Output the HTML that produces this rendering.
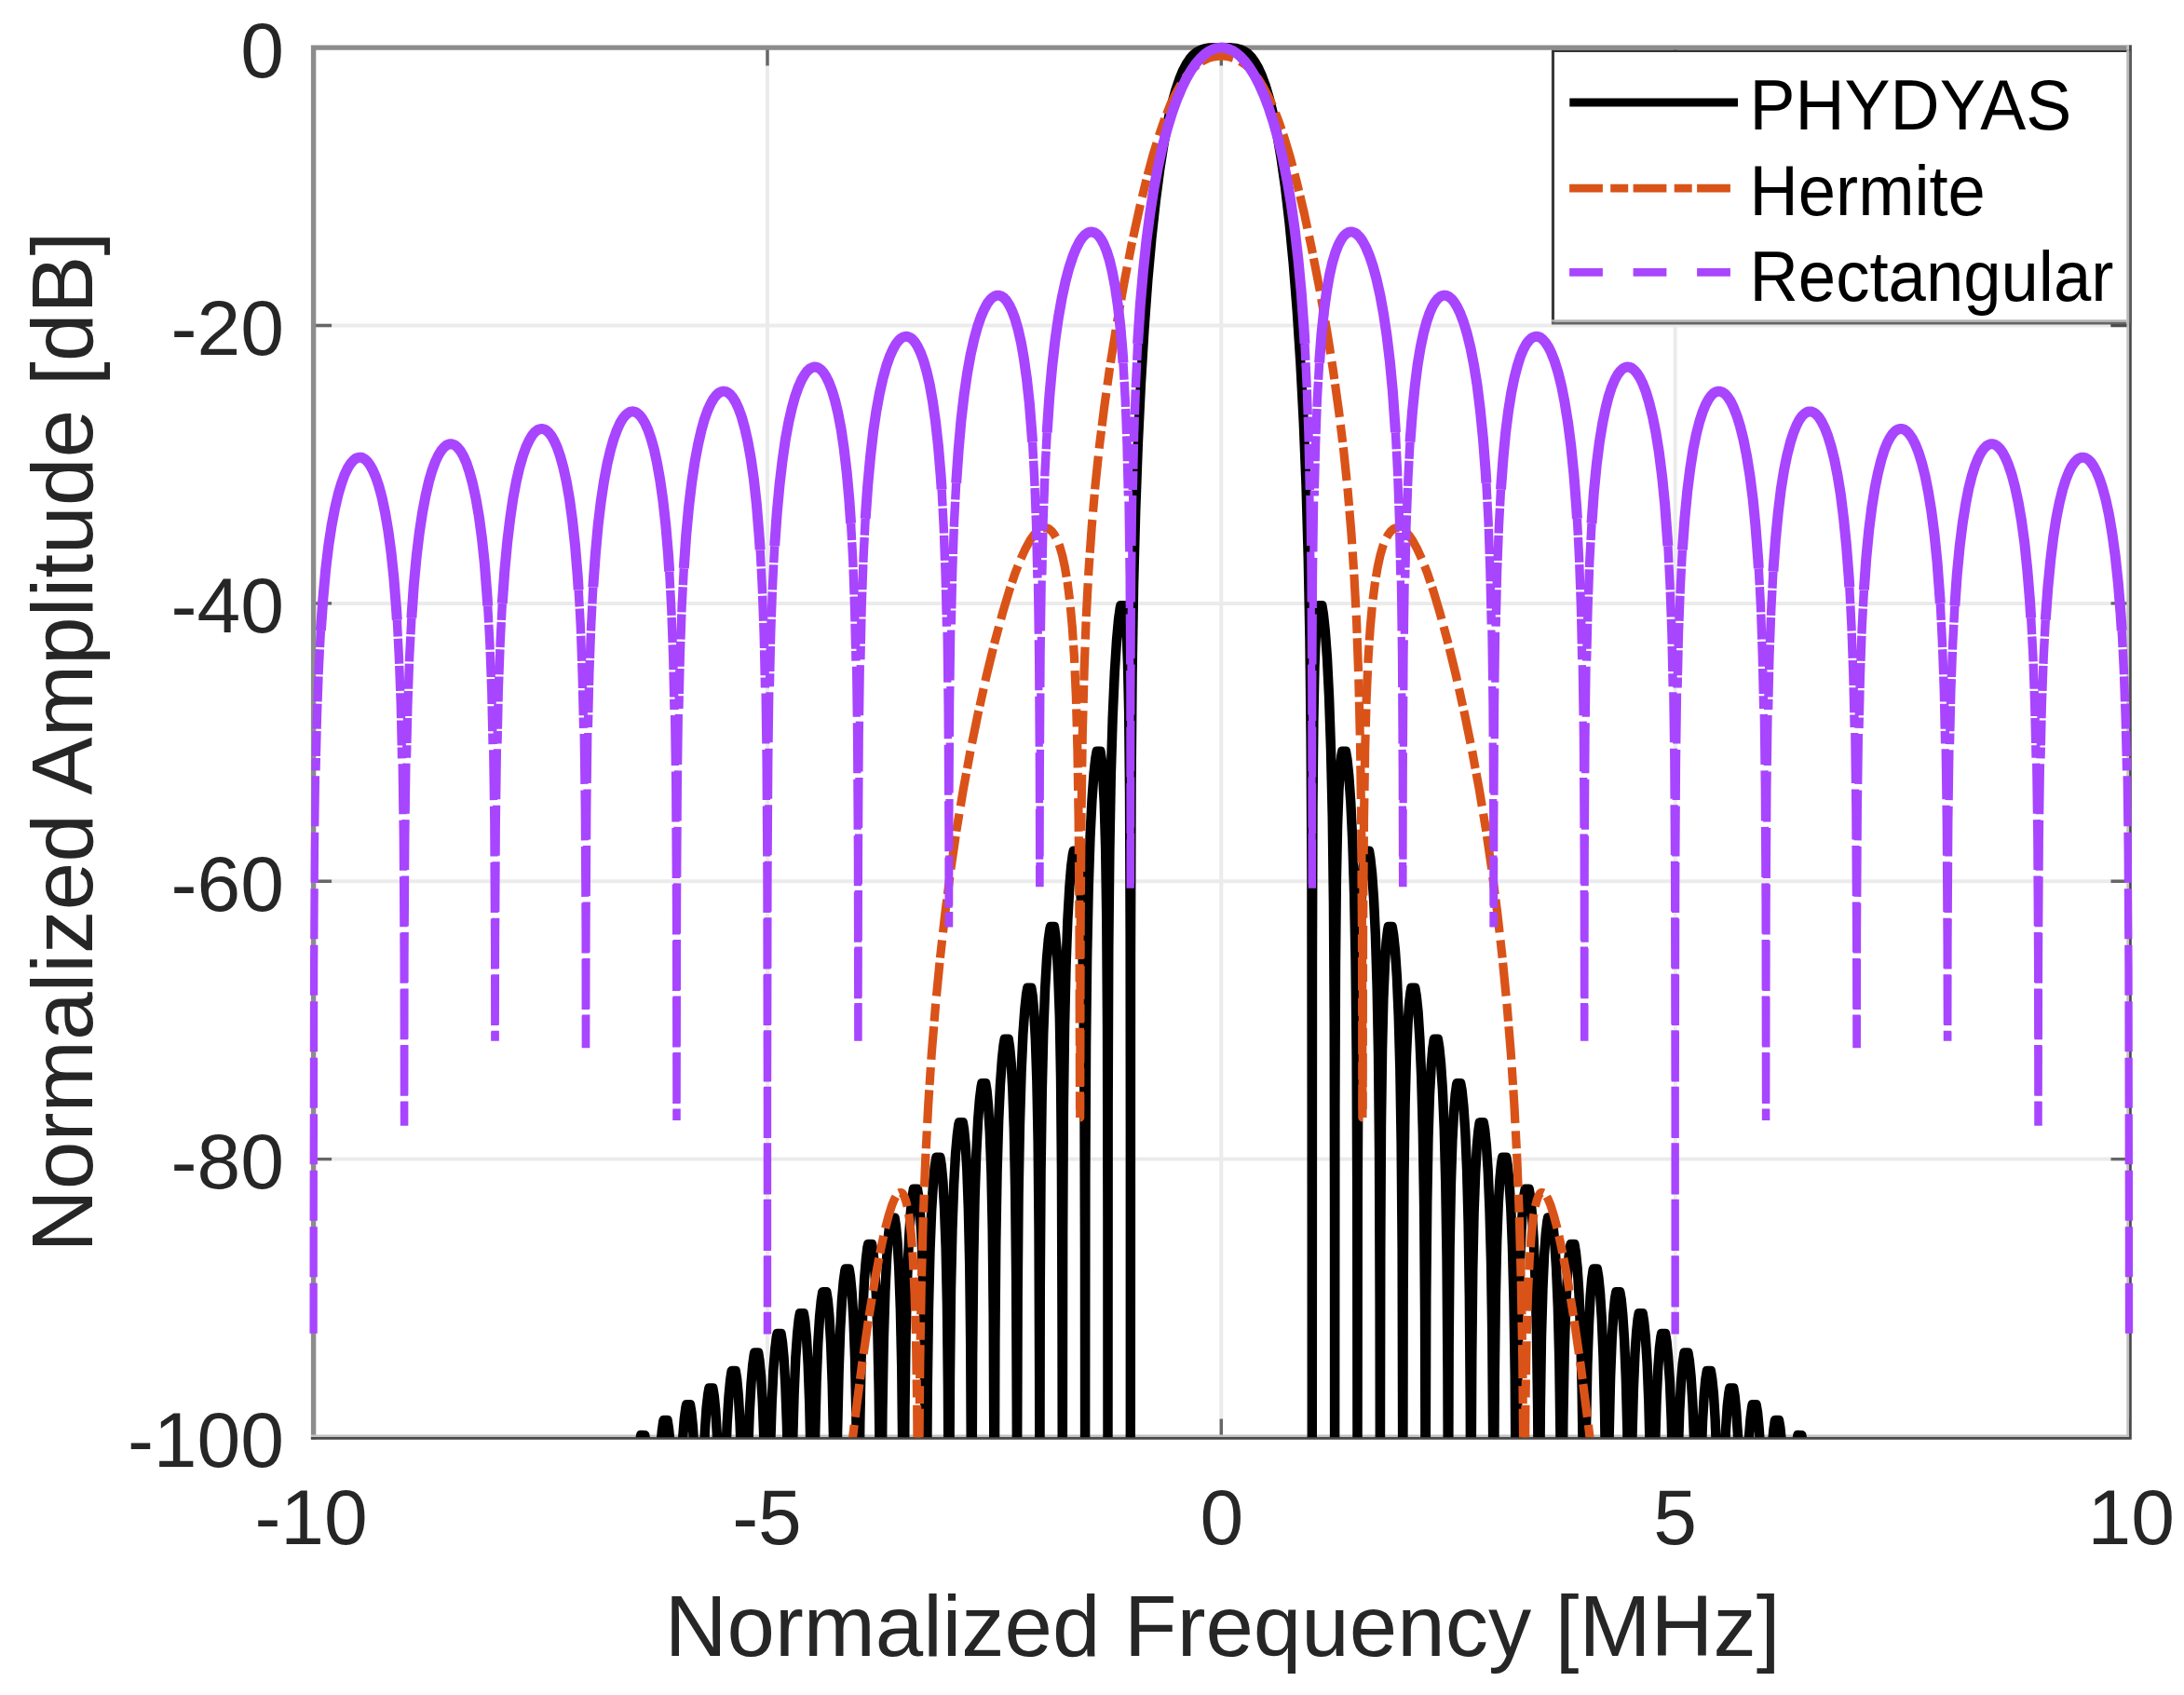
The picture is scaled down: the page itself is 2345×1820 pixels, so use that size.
<!DOCTYPE html>
<html lang="en"><head><meta charset="utf-8"><title>Prototype filter frequency responses</title>
<style>html,body{margin:0;padding:0;background:#fff;overflow:hidden}svg{display:block}</style></head>
<body>
<svg width="2345" height="1820" viewBox="0 0 2345 1820">
<defs><clipPath id="ax"><rect x="329.6" y="44.1" width="1963.4" height="1499.2"/></clipPath></defs>
<rect width="2345" height="1820" fill="#fff"/>
<path d="M824.0 51.1V1543.0M1311.3 51.1V1543.0M1798.7 51.1V1543.0M336.6 349.5H2286.0M336.6 647.9H2286.0M336.6 946.2H2286.0M336.6 1244.6H2286.0" stroke="#ebebeb" stroke-width="4" fill="none"/>
<path d="M336.6 1543.0v-19.5M336.6 51.1v19.5M824.0 1543.0v-19.5M824.0 51.1v19.5M1311.3 1543.0v-19.5M1311.3 51.1v19.5M1798.7 1543.0v-19.5M1798.7 51.1v19.5M2286.0 1543.0v-19.5M2286.0 51.1v19.5M336.6 51.1h19.5M2286.0 51.1h-19.5M336.6 349.5h19.5M2286.0 349.5h-19.5M336.6 647.9h19.5M2286.0 647.9h-19.5M336.6 946.2h19.5M2286.0 946.2h-19.5M336.6 1244.6h19.5M2286.0 1244.6h-19.5M336.6 1543.0h19.5M2286.0 1543.0h-19.5" stroke="#666" stroke-width="3.4" fill="none"/>
<path d="M336.6 1545.6V51.1H2288.8" stroke="#8c8c8c" stroke-width="5.4" fill="none" stroke-linejoin="miter"/>
<path d="M333.90000000000003 1541.8H2284.7V48.4" stroke="#c2c2c2" stroke-width="2.8" fill="none"/>
<path d="M333.90000000000003 1544.45H2287.45V48.4" stroke="#4a4a4a" stroke-width="2.7" fill="none"/>
<g clip-path="url(#ax)" fill="none" stroke-linejoin="round">
<path d="M629.0 1637.0L629.2 1632.5L634.2 1632.4L636.0 1601.8L637.7 1582.8L639.1 1572.7L639.5 1571.3L643.5 1571.3L644.8 1579.7L646.5 1596.2L648.2 1624.1L648.7 1632.5L658.0 1632.5L659.7 1596.7L661.5 1573.6L663.0 1560.7L663.9 1556.5L667.9 1556.5L669.2 1564.4L670.8 1580.6L672.5 1608.1L673.6 1632.5L681.7 1632.5L683.6 1588.9L685.4 1563.1L687.0 1548.0L688.2 1541.0L692.3 1541.1L693.7 1550.0L695.3 1566.9L697.0 1595.5L698.5 1632.5L705.6 1632.5L707.4 1584.5L709.2 1554.5L710.9 1535.8L712.3 1526.0L712.7 1524.9L716.6 1524.9L718.0 1533.8L719.7 1550.7L721.4 1579.2L723.0 1621.9L723.4 1632.5L729.6 1632.5L731.3 1578.9L733.1 1544.9L734.8 1523.1L736.4 1511.1L737.1 1508.1L741.0 1508.1L742.4 1516.5L744.0 1533.1L745.7 1561.1L747.3 1603.2L748.2 1632.5L753.5 1632.5L755.1 1575.4L756.9 1536.4L758.6 1511.3L760.3 1496.6L761.4 1490.5L765.4 1490.5L766.7 1498.3L768.3 1514.6L770.0 1542.3L771.6 1583.6L772.9 1632.5L777.6 1632.5L779.0 1571.7L780.7 1528.2L782.5 1499.5L784.2 1481.6L785.6 1472.3L785.8 1472.0L789.8 1472.0L791.2 1480.9L792.8 1497.9L794.5 1526.5L796.1 1569.7L797.6 1632.5L801.6 1632.5L803.0 1564.2L804.7 1517.4L806.5 1485.6L808.2 1465.7L809.7 1454.7L810.2 1452.5L814.2 1452.5L815.5 1460.9L817.1 1477.5L818.8 1505.8L820.4 1548.2L821.8 1608.1L822.3 1632.5L825.7 1632.5L827.1 1557.0L828.7 1506.3L830.4 1471.3L832.2 1448.6L833.7 1436.0L834.6 1432.0L838.6 1432.0L840.0 1441.0L841.6 1458.0L843.3 1487.0L844.9 1530.6L846.3 1592.9L846.9 1632.5L849.8 1632.5L851.0 1554.8L852.6 1497.9L854.3 1458.1L856.1 1432.4L857.7 1417.0L858.9 1410.2L862.9 1410.2L864.3 1418.7L865.9 1435.4L867.6 1463.8L869.2 1506.8L870.6 1567.7L871.5 1632.5L873.9 1632.5L875.1 1544.4L876.6 1484.0L878.3 1441.9L880.1 1413.2L881.8 1396.3L883.2 1387.5L883.4 1387.1L887.4 1387.2L888.8 1396.1L890.4 1413.3L892.1 1442.4L893.7 1486.5L895.1 1550.0L896.1 1632.5L898.1 1632.5L899.1 1539.8L900.6 1474.4L902.2 1427.9L904.0 1395.5L905.8 1375.2L907.3 1364.4L907.8 1362.5L911.7 1362.5L913.0 1370.5L914.6 1387.0L916.4 1415.2L918.0 1457.9L919.3 1518.7L920.4 1609.2L920.6 1632.5L922.2 1632.5L923.3 1530.1L924.6 1459.6L926.3 1408.8L928.1 1373.8L929.9 1351.8L931.4 1339.5L932.2 1336.0L936.1 1336.0L937.5 1344.5L939.1 1361.4L940.8 1389.3L942.4 1432.5L943.7 1494.4L944.8 1581.9L945.2 1632.5L946.4 1632.5L947.5 1513.2L948.8 1439.8L950.4 1387.1L952.2 1349.8L954.0 1326.2L955.6 1312.5L956.6 1307.5L960.6 1307.6L961.9 1316.1L963.5 1333.1L965.2 1361.2L966.8 1404.9L968.2 1468.0L969.2 1558.6L969.7 1632.5L970.7 1632.5L971.5 1512.4L972.7 1429.9L974.2 1371.9L976.0 1329.9L977.8 1302.0L979.5 1285.0L980.9 1276.6L985.0 1276.6L986.3 1285.2L987.9 1302.3L989.6 1330.5L991.2 1373.0L992.5 1435.9L993.5 1526.5L994.2 1632.5L994.9 1632.5L995.8 1489.6L997.0 1404.8L998.5 1343.6L1000.2 1299.8L1002.0 1270.6L1003.7 1252.8L1005.2 1243.4L1005.4 1242.7L1009.4 1242.7L1010.8 1251.2L1012.4 1268.4L1014.0 1296.8L1015.6 1339.7L1016.9 1400.8L1017.9 1491.1L1018.6 1632.5L1019.2 1632.5L1020.0 1475.7L1021.0 1385.5L1022.5 1318.9L1024.2 1271.6L1026.0 1239.3L1027.8 1218.9L1029.3 1207.5L1029.9 1205.2L1033.8 1205.2L1035.1 1212.9L1036.6 1228.8L1038.3 1256.2L1039.8 1297.5L1041.2 1358.7L1042.2 1445.7L1042.9 1586.6L1043.1 1632.5L1043.5 1632.5L1044.2 1455.3L1045.2 1358.1L1046.6 1287.7L1048.3 1238.0L1050.1 1203.0L1051.9 1180.2L1053.5 1167.3L1054.3 1163.3L1058.3 1163.3L1059.6 1171.4L1061.1 1187.8L1062.8 1216.0L1064.4 1259.0L1065.7 1320.8L1066.7 1414.3L1067.3 1562.1L1067.6 1632.5L1067.8 1632.5L1068.4 1441.6L1069.3 1334.5L1070.6 1258.4L1072.2 1203.6L1074.0 1164.3L1075.9 1137.9L1077.5 1122.7L1078.7 1115.7L1082.8 1115.8L1084.1 1124.5L1085.7 1141.5L1087.3 1169.8L1088.8 1212.6L1090.1 1276.9L1091.1 1370.6L1091.7 1511.4L1092.0 1632.5L1092.7 1390.6L1093.6 1283.2L1095.0 1206.7L1096.6 1151.4L1098.4 1110.7L1100.3 1084.0L1102.0 1068.0L1103.3 1060.6L1107.3 1060.6L1108.7 1069.4L1110.2 1086.5L1111.8 1115.4L1113.3 1159.9L1114.6 1224.8L1115.5 1318.7L1116.1 1475.6L1116.4 1632.5L1116.8 1383.9L1117.6 1258.4L1118.8 1172.1L1120.3 1109.0L1122.1 1061.7L1124.0 1029.0L1125.8 1008.5L1127.4 997.3L1128.0 994.9L1131.9 994.9L1133.1 1002.8L1134.6 1019.0L1136.2 1047.4L1137.8 1091.7L1139.0 1157.5L1139.9 1255.1L1140.5 1432.7L1140.8 1611.5L1141.2 1325.5L1141.9 1191.1L1143.1 1101.5L1144.6 1036.3L1146.4 987.2L1148.4 952.2L1150.2 930.0L1151.9 917.2L1152.7 913.6L1156.6 913.6L1157.8 921.7L1159.3 938.6L1160.9 967.6L1162.3 1011.5L1163.5 1079.4L1164.4 1182.2L1164.9 1342.3L1165.1 1632.5L1165.4 1267.5L1166.1 1122.6L1167.2 1026.3L1168.7 954.3L1170.5 898.9L1172.5 858.3L1174.5 830.8L1176.3 814.4L1177.6 806.8L1181.5 806.8L1182.8 815.5L1184.2 833.0L1185.7 862.7L1187.1 910.4L1188.2 984.6L1189.0 1103.3L1189.4 1309.4L1189.5 1632.5L1189.7 1188.6L1190.3 1019.1L1191.4 913.6L1192.8 833.2L1194.7 770.2L1196.8 722.2L1199.0 687.3L1201.0 665.3L1202.7 652.9L1203.3 650.2L1207.0 650.2L1208.2 659.4L1209.6 678.3L1210.9 710.7L1212.1 763.6L1213.0 850.8L1213.6 1003.2L1213.8 1209.7L1213.8 1632.5L1214.0 1027.6L1214.6 842.0L1215.6 723.3L1217.1 630.2L1219.2 549.9L1221.8 478.1L1224.9 412.5L1228.5 353.5L1232.3 301.1L1236.5 254.7L1240.9 215.0L1245.3 181.4L1249.7 153.4L1254.0 130.4L1258.2 111.7L1262.4 96.6L1266.4 84.8L1270.2 75.6L1274.0 68.5L1277.6 63.1L1281.2 59.1L1284.9 56.1L1288.7 53.9L1293.0 52.4L1298.3 51.5L1306.8 51.1L1321.7 51.3L1327.7 52.0L1332.3 53.2L1336.3 55.1L1340.0 57.8L1343.6 61.4L1347.2 66.3L1350.9 72.7L1354.7 81.0L1358.7 91.7L1362.8 105.5L1367.0 122.6L1371.2 143.8L1375.6 169.9L1380.1 201.6L1384.5 239.1L1388.7 282.8L1392.7 333.2L1396.4 389.9L1399.7 452.5L1402.5 521.5L1404.7 597.8L1406.4 684.4L1407.6 791.5L1408.4 935.7L1408.7 1208.7L1408.8 1632.5L1409.0 1031.6L1409.5 866.0L1410.4 773.3L1411.5 715.7L1412.9 681.0L1414.2 660.9L1415.4 651.0L1415.7 650.2L1419.4 650.2L1420.9 659.3L1422.8 677.1L1425.0 706.7L1427.1 749.1L1429.0 805.1L1430.7 876.1L1431.9 969.3L1432.7 1097.4L1433.0 1308.2L1433.1 1632.5L1433.4 1191.6L1434.0 1036.7L1434.9 945.8L1436.1 886.5L1437.5 847.9L1439.0 824.3L1440.4 810.9L1441.2 806.8L1445.0 806.8L1446.5 815.8L1448.3 833.0L1450.3 861.6L1452.3 903.9L1454.1 960.0L1455.5 1032.7L1456.6 1135.9L1457.2 1287.7L1457.5 1632.5L1457.8 1270.4L1458.5 1131.3L1459.6 1046.8L1460.9 990.5L1462.4 953.1L1463.9 929.8L1465.4 917.3L1466.1 913.6L1470.0 913.6L1471.3 921.4L1473.1 937.7L1475.0 964.5L1476.9 1004.7L1478.6 1059.8L1480.0 1131.9L1481.0 1234.5L1481.6 1402.3L1481.9 1611.8L1482.3 1343.5L1483.0 1209.4L1484.1 1127.2L1485.4 1071.7L1487.0 1034.5L1488.5 1011.7L1490.0 998.8L1490.8 994.9L1494.7 994.9L1496.2 1003.7L1498.0 1020.8L1499.9 1049.2L1501.7 1091.3L1503.3 1148.1L1504.6 1227.0L1505.6 1339.8L1506.1 1540.7L1506.3 1632.5L1506.7 1386.4L1507.5 1265.2L1508.6 1187.5L1510.0 1134.1L1511.6 1098.8L1513.2 1076.3L1514.7 1064.0L1515.4 1060.6L1519.3 1060.6L1520.8 1069.5L1522.6 1086.9L1524.4 1115.1L1526.2 1156.8L1527.8 1215.5L1529.1 1295.3L1530.0 1409.3L1530.6 1632.5L1531.3 1393.8L1532.3 1290.6L1533.5 1221.9L1535.0 1175.3L1536.7 1145.0L1538.3 1126.2L1539.7 1116.5L1539.9 1115.7L1543.9 1115.7L1545.3 1124.5L1547.0 1141.4L1548.9 1169.6L1550.7 1211.8L1552.2 1269.4L1553.5 1350.9L1554.4 1470.7L1554.9 1632.5L1555.1 1632.5L1555.7 1444.4L1556.6 1340.9L1557.9 1271.9L1559.4 1224.8L1561.1 1193.3L1562.7 1174.4L1564.1 1164.4L1564.4 1163.3L1568.3 1163.3L1569.7 1171.2L1571.4 1187.7L1573.3 1215.4L1575.1 1257.1L1576.6 1314.4L1577.8 1391.3L1578.7 1504.8L1579.2 1632.5L1579.5 1632.5L1580.3 1458.4L1581.3 1364.7L1582.6 1302.6L1584.2 1259.3L1585.8 1230.7L1587.4 1214.0L1588.7 1205.3L1589.4 1205.2L1592.8 1205.2L1594.2 1213.2L1595.9 1229.7L1597.7 1256.9L1599.4 1297.3L1601.0 1354.4L1602.2 1431.0L1603.1 1544.3L1603.5 1632.5L1604.0 1632.5L1604.8 1479.0L1605.9 1392.0L1607.2 1333.1L1608.8 1291.7L1610.5 1265.2L1612.0 1249.7L1613.2 1242.7L1617.3 1242.7L1618.7 1251.2L1620.4 1268.1L1622.2 1296.0L1623.9 1337.7L1625.4 1394.9L1626.7 1475.4L1627.5 1590.3L1627.7 1632.5L1628.5 1632.5L1629.3 1493.1L1630.5 1414.0L1631.9 1358.9L1633.5 1320.8L1635.1 1296.2L1636.7 1281.9L1637.7 1276.6L1641.7 1276.6L1643.1 1285.0L1644.8 1302.0L1646.6 1329.9L1648.4 1371.9L1649.9 1429.9L1651.1 1512.4L1652.0 1632.5L1653.0 1632.5L1653.9 1511.4L1655.0 1436.4L1656.5 1383.6L1658.1 1347.2L1659.8 1324.3L1661.3 1311.5L1662.1 1307.5L1666.1 1307.5L1667.5 1316.0L1669.2 1333.0L1671.0 1361.0L1672.8 1403.4L1674.3 1462.2L1675.4 1542.1L1676.2 1632.5L1677.5 1632.5L1678.4 1524.6L1679.7 1452.8L1681.2 1403.8L1682.9 1370.6L1684.5 1349.7L1686.0 1338.5L1686.6 1336.0L1690.5 1336.0L1691.9 1344.5L1693.6 1361.0L1695.4 1388.9L1697.1 1431.2L1698.6 1489.8L1699.8 1569.6L1700.4 1632.5L1702.0 1632.5L1703.1 1530.9L1704.4 1466.5L1706.0 1421.5L1707.6 1391.6L1709.2 1373.3L1710.6 1363.6L1711.0 1362.5L1714.9 1362.5L1716.3 1371.1L1718.0 1387.7L1719.8 1415.8L1721.5 1456.9L1723.0 1515.5L1724.2 1595.2L1724.6 1632.5L1726.6 1632.5L1727.7 1541.2L1729.1 1479.9L1730.7 1438.3L1732.4 1410.7L1734.0 1394.6L1735.3 1387.1L1739.3 1387.1L1740.7 1395.1L1742.3 1411.4L1744.1 1439.0L1745.8 1479.6L1747.3 1537.0L1748.6 1619.1L1748.8 1632.5L1751.1 1632.5L1752.4 1546.6L1753.9 1491.5L1755.5 1453.4L1757.2 1429.5L1758.7 1415.4L1759.7 1410.2L1763.7 1410.2L1765.1 1418.8L1766.8 1435.4L1768.6 1463.6L1770.3 1505.1L1771.8 1564.4L1772.9 1632.5L1775.7 1632.5L1777.1 1553.2L1778.6 1502.9L1780.3 1468.8L1781.9 1447.2L1783.4 1435.1L1784.1 1432.0L1788.1 1432.0L1789.4 1439.6L1791.0 1455.7L1792.9 1483.1L1794.6 1523.5L1796.1 1580.8L1797.0 1632.5L1800.4 1632.5L1801.8 1562.2L1803.3 1515.4L1805.0 1483.6L1806.7 1464.2L1808.2 1453.9L1808.5 1452.5L1812.5 1452.5L1813.9 1461.1L1815.6 1477.8L1817.4 1506.2L1819.1 1548.0L1820.6 1608.3L1821.1 1632.5L1825.1 1632.5L1826.5 1568.1L1828.1 1525.5L1829.8 1497.2L1831.4 1480.5L1832.8 1472.0L1836.9 1472.0L1838.2 1480.1L1839.9 1496.4L1841.6 1523.5L1843.3 1564.2L1844.9 1622.3L1845.1 1632.5L1849.8 1632.5L1851.3 1573.1L1853.0 1534.8L1854.7 1509.9L1856.3 1495.8L1857.3 1490.5L1861.3 1490.5L1862.7 1499.2L1864.3 1515.9L1866.1 1543.6L1867.8 1585.3L1869.1 1632.5L1874.5 1632.5L1876.1 1580.3L1877.8 1545.1L1879.5 1523.5L1881.0 1511.4L1881.6 1508.1L1885.6 1508.1L1887.1 1516.7L1888.7 1533.4L1890.5 1561.0L1892.2 1602.7L1893.1 1632.5L1899.3 1632.5L1901.0 1583.4L1902.7 1553.3L1904.4 1535.0L1905.8 1525.6L1906.1 1524.9L1910.0 1524.9L1911.4 1533.0L1913.0 1549.4L1914.8 1576.7L1916.5 1617.8L1917.0 1632.5L1924.1 1632.5L1925.9 1589.6L1927.6 1563.2L1929.2 1547.7L1930.4 1541.0L1934.4 1541.1L1935.8 1549.8L1937.5 1566.6L1939.3 1594.5L1940.9 1632.5L1949.0 1632.5L1950.8 1594.8L1952.6 1572.3L1954.1 1560.0L1954.8 1556.5L1958.8 1556.5L1960.2 1565.2L1961.9 1582.0L1963.6 1609.7L1964.7 1632.5L1974.0 1632.5L1975.8 1601.5L1977.4 1582.6L1978.9 1572.5L1979.2 1571.3L1983.2 1571.3L1984.6 1579.9L1986.2 1596.7L1988.0 1624.4L1988.5 1632.5L1993.5 1632.5L1993.6 1637.0" stroke="#000" stroke-width="10.4"/>
<path d="M1159.6 1199.9L1159.7 1199.9L1160.2 988.7L1161.1 872.3L1162.3 788.5L1164.1 720.8L1166.2 663.7L1168.9 612.8L1172.2 565.9L1176.0 521.5L1180.5 478.6L1185.8 436.1L1191.9 392.7L1199.1 347.9L1207.1 303.1L1215.4 260.7L1223.5 223.7L1231.0 192.4L1238.0 166.4L1244.6 145.0L1250.7 127.4L1256.5 112.8L1262.1 100.9L1267.4 91.2L1272.5 83.4L1277.6 77.0L1282.6 71.9L1287.6 67.8L1292.7 64.7L1297.9 62.4L1303.3 60.9L1308.9 60.1L1314.5 60.2L1320.0 61.0L1325.4 62.6L1330.6 65.1L1335.6 68.3L1340.7 72.5L1345.7 77.7L1350.7 84.3L1355.9 92.4L1361.3 102.4L1366.9 114.6L1372.7 129.6L1378.9 147.6L1385.5 169.6L1392.5 196.2L1400.2 228.4L1408.3 266.4L1416.7 309.4L1424.6 354.3L1431.6 398.8L1437.6 441.8L1442.8 484.5L1447.2 527.4L1450.9 571.9L1454.0 618.8L1456.7 670.5L1458.8 729.0L1460.5 799.0L1461.7 886.8L1462.5 1012.5L1462.9 1199.9L1463.0 1199.9" stroke="#d95319" stroke-width="9.2" stroke-dasharray="35.8 8.3 19 5.4" stroke-dashoffset="10"/>
<path d="M1159.6 1199.9L1159.5 1192.0L1159.0 992.3L1158.1 879.4L1156.9 804.7L1155.4 749.5L1153.5 706.5L1151.3 673.3L1148.9 646.7L1146.2 625.6L1143.4 609.0L1140.6 596.2L1137.7 586.3L1134.8 579.1L1132.0 573.9L1129.4 570.4L1126.8 568.2L1124.3 567.0L1121.9 566.6L1119.3 567.0L1116.4 568.4L1113.3 570.9L1109.7 574.8L1105.7 580.7L1101.2 588.9L1096.1 599.9L1090.3 614.6L1083.9 633.5L1076.7 657.5L1068.5 687.7L1059.6 723.9L1050.6 764.1L1042.1 805.5L1034.4 847.2L1027.3 889.8L1020.8 933.9L1014.9 979.8L1009.5 1028.0L1004.6 1078.5L1000.3 1131.1L996.7 1186.3L993.7 1244.7L991.2 1308.2L989.3 1378.6L987.8 1462.6L986.8 1574.6L986.5 1632.5L986.1 1632.5" stroke="#d95319" stroke-width="9.2" stroke-dasharray="35.8 8.3 19 5.4" stroke-dashoffset="-33"/>
<path d="M986.1 1632.5L985.6 1632.5L984.7 1510.2L983.5 1437.5L982.0 1387.7L980.3 1351.9L978.4 1326.2L976.4 1308.2L974.4 1296.2L972.4 1288.6L970.7 1284.0L969.1 1281.6L967.7 1280.6L966.3 1280.5L964.7 1281.2L962.9 1283.2L960.5 1287.3L957.6 1294.3L954.1 1305.5L949.8 1321.9L944.9 1345.1L939.1 1376.1L932.6 1416.3L925.3 1466.9L917.3 1529.1L908.4 1603.9L905.1 1632.5L892.2 1632.5" stroke="#d95319" stroke-width="9.2" stroke-dasharray="35.8 8.3 19 5.4" stroke-dashoffset="-20"/>
<path d="M1463.0 1199.9L1463.1 1192.0L1463.6 992.3L1464.5 879.4L1465.7 804.7L1467.2 749.5L1469.1 706.5L1471.3 673.3L1473.7 646.7L1476.4 625.6L1479.2 609.0L1482.0 596.2L1484.9 586.3L1487.8 579.1L1490.6 573.9L1493.2 570.4L1495.8 568.2L1498.3 567.0L1500.7 566.6L1503.3 567.0L1506.2 568.4L1509.3 570.9L1512.9 574.8L1516.9 580.7L1521.4 588.9L1526.5 599.9L1532.3 614.6L1538.7 633.5L1545.9 657.5L1554.1 687.7L1563.0 723.9L1572.0 764.1L1580.5 805.5L1588.2 847.2L1595.3 889.8L1601.8 933.9L1607.7 979.8L1613.1 1028.0L1618.0 1078.5L1622.3 1131.1L1625.9 1186.3L1628.9 1244.7L1631.4 1308.2L1633.3 1378.6L1634.8 1462.6L1635.8 1574.6L1636.1 1632.5L1636.5 1632.5" stroke="#d95319" stroke-width="9.2" stroke-dasharray="35.8 8.3 19 5.4" stroke-dashoffset="-33"/>
<path d="M1636.5 1632.5L1637.0 1632.5L1637.9 1510.2L1639.1 1437.5L1640.6 1387.7L1642.3 1351.9L1644.2 1326.2L1646.2 1308.2L1648.2 1296.2L1650.2 1288.6L1651.9 1284.0L1653.5 1281.6L1654.9 1280.6L1656.3 1280.5L1657.9 1281.2L1659.7 1283.2L1662.1 1287.3L1665.0 1294.3L1668.5 1305.5L1672.8 1321.9L1677.7 1345.1L1683.5 1376.1L1690.0 1416.3L1697.3 1466.9L1705.3 1529.1L1714.2 1603.9L1717.5 1632.5L1730.4 1632.5" stroke="#d95319" stroke-width="9.2" stroke-dasharray="35.8 8.3 19 5.4" stroke-dashoffset="-20"/>
<path d="M344.4 677.1L346.9 642.2L349.7 611.4L352.8 585.7L356.1 564.1L359.6 545.7L363.1 530.9L366.6 519.1L370.0 509.7L373.3 502.8L376.4 497.9L379.3 494.5L381.9 492.4L384.4 491.4L386.7 491.1L388.9 491.5L391.4 492.8L394.1 495.1L396.9 498.8L400.0 504.2L403.3 511.7L406.6 521.2L410.1 534.1L413.5 550.3L416.8 569.6L419.9 592.4L422.8 619.7L425.5 653.1L426.3 665.6M441.9 663.3L444.3 628.4L447.2 597.5L450.3 571.8L453.6 550.1L457.1 531.7L460.5 516.9L464.0 505.0L467.5 495.5L470.8 488.6L473.9 483.6L476.8 480.2L479.4 478.1L481.9 477.0L484.1 476.7L486.4 477.1L488.9 478.3L491.5 480.6L494.4 484.2L497.5 489.5L500.8 497.0L504.0 506.5L507.5 519.3L511.0 535.4L514.3 554.6L517.4 577.4L520.3 604.7L522.9 638.0L523.7 650.5M539.3 647.9L541.8 613.0L544.7 582.0L547.8 556.3L551.0 534.5L554.5 516.0L558.0 501.1L561.5 489.2L565.0 479.6L568.3 472.6L571.3 467.6L574.2 464.1L576.9 461.9L579.4 460.8L581.6 460.4L583.9 460.8L586.3 461.9L589.0 464.2L591.9 467.7L594.9 473.0L598.2 480.3L601.5 489.8L605.0 502.5L608.3 517.5L611.6 536.4L614.6 558.8L617.5 585.4L620.2 618.0L621.2 633.4M636.8 630.4L639.3 595.4L642.1 564.4L645.2 538.6L648.5 516.7L652.0 498.1L655.5 483.2L659.0 471.1L662.5 461.5L665.7 454.4L668.8 449.2L671.7 445.7L674.4 443.5L676.8 442.2L679.1 441.8L681.3 442.1L683.8 443.2L686.5 445.4L689.3 448.9L692.4 454.0L695.7 461.3L699.0 470.7L702.3 482.4L705.5 497.2L708.8 515.7L711.9 537.6L714.8 563.7L717.5 595.4L718.7 613.7M734.3 610.2L736.7 575.1L739.6 544.0L742.7 518.1L746.0 496.1L749.5 477.4L753.0 462.3L756.4 450.1L759.9 440.4L763.2 433.2L766.3 427.9L769.2 424.3L771.8 421.9L774.3 420.6L776.8 420.1L779.0 420.4L781.5 421.5L784.1 423.6L787.0 427.1L790.1 432.2L793.2 439.0L796.5 448.2L799.7 459.8L803.0 474.4L806.3 492.8L809.4 514.6L812.3 540.6L814.9 572.2L816.2 590.4M831.7 586.2L834.2 551.0L837.1 519.8L840.2 493.7L843.4 471.6L846.9 452.7L850.4 437.5L853.9 425.1L857.4 415.2L860.7 407.8L863.8 402.4L866.6 398.6L869.3 396.1L871.8 394.7L874.2 394.0L876.5 394.2L878.9 395.1L881.4 396.9L884.1 399.9L886.9 404.3L890.0 410.5L893.3 419.1L896.6 430.1L899.9 443.9L903.2 461.3L906.2 481.8L909.1 506.3L911.8 535.8L913.6 562.0M929.2 556.8L931.7 521.4L934.6 489.9L937.6 463.6L940.9 441.3L944.4 422.2L948.1 405.9L951.8 392.7L955.3 382.8L958.8 375.0L962.0 369.3L964.9 365.6L967.6 363.2L970.1 361.8L972.5 361.3L974.8 361.5L977.2 362.5L979.7 364.3L982.4 367.4L985.2 371.9L988.3 378.3L991.6 387.1L994.9 398.5L998.2 412.7L1001.4 430.8L1004.5 452.5L1007.4 478.5L1010.1 510.3L1011.1 525.5M1026.7 518.6L1029.2 482.9L1032.0 451.1L1035.1 424.5L1038.6 400.5L1042.3 380.1L1046.0 363.7L1049.7 350.4L1053.4 339.7L1056.9 331.8L1060.1 325.9L1063.2 321.8L1065.9 319.3L1068.3 317.8L1070.8 317.2L1073.1 317.3L1075.5 318.2L1078.0 319.9L1080.7 322.8L1083.5 327.3L1086.6 333.6L1089.7 341.8L1093.0 353.1L1096.3 367.4L1099.3 384.4L1102.4 406.2L1105.3 432.6L1107.7 462.5L1108.6 474.7M1124.2 464.3L1126.8 425.4L1129.7 393.5L1133.0 364.8L1136.5 340.5L1140.2 319.7L1144.1 301.8L1148.0 287.2L1151.9 275.4L1155.6 266.4L1159.0 259.7L1162.1 255.2L1165.0 252.1L1167.7 250.1L1170.1 249.2L1172.4 249.0L1174.6 249.5L1177.1 250.8L1179.6 253.1L1182.2 256.7L1185.1 262.0L1188.2 269.5L1191.3 279.3L1194.3 291.9L1197.4 308.2L1200.3 327.9L1203.0 351.7L1205.4 380.9L1206.0 389.7M1221.6 369.0L1224.3 327.7L1227.5 290.7L1231.1 257.2L1234.9 228.3L1239.1 201.6L1243.6 178.0L1248.3 156.9L1253.3 138.1L1258.4 121.3L1263.6 106.9L1268.8 94.6L1273.9 84.1L1279.1 75.3L1284.0 68.2L1288.7 62.7L1293.5 58.3L1297.9 55.1L1302.2 53.0L1306.5 51.6L1310.5 51.1L1314.6 51.3L1318.8 52.4L1323.1 54.2L1327.6 57.1L1332.1 60.9L1336.8 66.0L1341.7 72.6L1346.7 80.5L1351.8 90.3L1357.0 101.9L1362.1 115.4L1367.3 131.2L1372.5 149.8L1377.4 170.6L1382.1 194.1L1386.4 219.4L1390.4 248.1L1394.0 279.4L1397.2 313.4L1400.1 353.9L1401.0 369.0M1416.6 389.7L1419.0 358.2L1421.7 332.8L1424.6 312.0L1427.6 294.9L1430.7 281.6L1433.8 271.2L1436.9 263.3L1439.8 257.7L1442.4 253.8L1445.1 251.1L1447.6 249.6L1449.8 249.0L1452.1 249.1L1454.5 249.9L1457.2 251.7L1460.1 254.7L1463.1 259.0L1466.6 265.5L1470.3 274.3L1474.0 285.2L1477.9 299.3L1481.8 316.6L1485.5 336.8L1489.0 360.2L1492.3 387.6L1495.4 420.3L1498.0 457.5L1498.4 464.3M1514.0 474.7L1516.5 441.7L1519.2 414.8L1522.0 392.5L1525.1 373.7L1528.4 358.0L1531.7 345.7L1535.0 336.1L1538.0 329.2L1540.9 324.3L1543.6 320.9L1546.3 318.6L1548.7 317.5L1551.0 317.1L1553.4 317.5L1555.9 318.7L1558.6 320.9L1561.4 324.4L1564.5 329.4L1568.0 336.7L1571.5 346.0L1575.2 358.2L1578.9 373.3L1582.6 392.0L1586.1 413.9L1589.3 439.7L1592.4 470.6L1595.1 505.6L1595.9 518.6M1611.5 525.5L1614.0 492.0L1616.6 464.6L1619.7 440.3L1622.8 421.2L1626.1 405.2L1629.4 392.5L1632.6 382.4L1635.7 375.1L1638.8 369.4L1641.7 365.6L1644.3 363.1L1646.8 361.8L1649.1 361.3L1651.3 361.4L1653.8 362.4L1656.4 364.4L1659.3 367.6L1662.4 372.3L1665.7 378.9L1669.2 387.8L1672.9 399.7L1676.6 414.5L1680.0 431.8L1683.5 453.3L1686.8 478.7L1689.9 509.2L1692.6 543.8L1693.4 556.8M1709.0 562.0L1711.4 528.2L1714.3 498.7L1717.4 474.4L1720.7 454.3L1724.0 438.3L1727.2 425.7L1730.5 415.6L1733.8 407.8L1736.9 402.2L1739.8 398.4L1742.4 395.9L1744.9 394.6L1747.1 394.0L1749.4 394.2L1751.9 395.2L1754.5 397.1L1757.4 400.4L1760.5 405.1L1763.8 411.7L1767.3 420.8L1770.7 432.1L1774.4 447.0L1777.9 464.4L1781.4 486.2L1784.7 512.2L1787.6 541.2L1790.2 576.4L1790.9 586.2M1806.4 590.4L1808.9 556.5L1811.8 526.7L1814.9 502.3L1818.1 481.9L1821.4 465.8L1824.7 453.0L1828.0 442.7L1831.3 434.7L1834.4 428.9L1837.2 424.9L1839.9 422.3L1842.4 420.8L1844.8 420.2L1847.1 420.3L1849.5 421.2L1852.2 423.1L1855.1 426.2L1858.2 430.9L1861.4 437.5L1864.9 446.4L1868.4 457.7L1871.9 471.7L1875.4 489.0L1878.9 510.6L1882.2 536.4L1885.0 565.3L1887.7 600.4L1888.3 610.2M1903.9 613.7L1906.4 579.6L1909.3 549.8L1912.3 525.2L1915.6 504.7L1918.9 488.5L1922.4 474.8L1925.7 464.6L1929.0 456.5L1932.0 450.7L1934.9 446.7L1937.6 444.1L1940.0 442.6L1942.5 441.9L1944.8 442.0L1947.2 442.9L1949.9 444.7L1952.8 447.8L1955.8 452.5L1959.1 459.1L1962.6 468.1L1966.1 479.3L1969.6 493.4L1973.1 510.8L1976.4 531.2L1979.6 556.9L1982.5 585.7L1985.2 620.7L1985.8 630.4M2001.4 633.4L2003.8 599.3L2006.7 569.4L2009.8 544.7L2013.1 524.1L2016.4 507.8L2019.9 493.9L2023.1 483.6L2026.4 475.5L2029.5 469.6L2032.4 465.5L2035.0 462.8L2037.5 461.3L2040.0 460.5L2042.2 460.5L2044.7 461.3L2047.4 463.1L2050.2 466.2L2053.3 470.8L2056.6 477.2L2060.1 486.1L2063.6 497.3L2067.1 511.3L2070.5 528.6L2073.8 548.9L2077.1 574.5L2080.0 603.2L2082.6 638.2L2083.3 647.9M2098.9 650.5L2101.3 616.4L2104.2 586.4L2107.3 561.6L2110.6 541.0L2113.8 524.5L2117.3 510.6L2120.6 500.3L2123.9 492.1L2127.0 486.1L2129.8 482.0L2132.5 479.2L2135.0 477.6L2137.4 476.8L2139.7 476.7L2142.2 477.5L2144.6 479.1L2147.3 481.7L2150.2 485.7L2153.2 491.4L2156.5 499.2L2160.0 509.6L2163.5 522.6L2167.0 538.8L2170.5 559.0L2173.8 583.0L2176.8 611.9L2179.5 644.6L2180.7 663.3M2196.3 665.6L2198.8 631.4L2201.7 601.4L2204.7 576.6L2208.0 555.9L2211.3 539.4L2214.8 525.4L2218.1 515.0L2221.4 506.8L2224.4 500.8L2227.3 496.6L2230.0 493.8L2232.4 492.1L2234.9 491.2L2237.2 491.2L2239.6 491.9L2242.1 493.4L2244.8 496.0L2247.6 500.0L2250.7 505.6L2254.0 513.3L2257.5 523.7L2261.0 536.6L2264.5 552.8L2267.9 572.9L2271.2 596.9L2274.3 625.8L2277.0 658.4L2278.2 677.1" stroke="#a845ff" stroke-width="11.0"/>
<path d="M344.4 677.1L342.3 718.3L340.4 770.1L339.0 827.3M426.3 665.6L428.4 706.3L430.3 757.6L431.6 814.3M441.9 663.3L439.7 704.6L437.9 756.4L436.5 813.6M523.7 650.5L525.9 691.1L527.8 742.4L529.1 799.1M539.3 647.9L537.2 689.2L535.3 741.1L534.0 798.3M621.2 633.4L623.4 673.9L625.2 725.2L626.6 781.9M636.8 630.4L634.7 671.8L632.8 723.7L631.4 781.0M718.7 613.7L720.8 654.1L722.7 705.3L724.0 762.0M734.3 610.2L732.1 651.6L730.3 703.6L728.9 760.9M816.2 590.4L818.3 630.7L820.2 681.8L821.5 738.5M831.7 586.2L829.6 627.7L827.7 679.8L826.4 737.2M913.6 562.0L915.8 602.2L917.6 653.2L919.0 709.7M929.2 556.8L927.1 598.4L925.2 650.7L923.9 708.1M1011.1 525.5L1013.2 565.5L1015.1 616.3L1016.5 672.7M1026.7 518.6L1024.5 560.5L1022.7 612.9L1021.3 670.5M1108.6 474.7L1110.7 514.2L1112.6 564.6L1113.9 620.7M1124.2 464.3L1122.0 506.7L1120.1 559.6L1118.8 617.4M1206.0 389.7L1208.2 428.0L1210.0 477.2L1211.4 532.5M1221.6 369.0L1219.5 412.9L1217.6 467.1L1216.3 526.0M1401.0 369.0L1403.1 412.9L1405.0 467.1L1406.3 526.0M1416.6 389.7L1414.4 428.0L1412.6 477.2L1411.2 532.5M1498.4 464.3L1500.6 506.7L1502.5 559.6L1503.8 617.4M1514.0 474.7L1511.9 514.2L1510.0 564.6L1508.7 620.7M1595.9 518.6L1598.1 560.5L1599.9 612.9L1601.3 670.5M1611.5 525.5L1609.4 565.5L1607.5 616.3L1606.1 672.7M1693.4 556.8L1695.5 598.4L1697.4 650.7L1698.7 708.1M1709.0 562.0L1706.8 602.2L1705.0 653.2L1703.6 709.7M1790.9 586.2L1793.0 627.7L1794.9 679.8L1796.2 737.2M1806.4 590.4L1804.3 630.7L1802.4 681.8L1801.1 738.5M1888.3 610.2L1890.5 651.6L1892.3 703.6L1893.7 760.9M1903.9 613.7L1901.8 654.1L1899.9 705.3L1898.6 762.0M1985.8 630.4L1987.9 671.8L1989.8 723.7L1991.2 781.0M2001.4 633.4L1999.2 673.9L1997.4 725.2L1996.0 781.9M2083.3 647.9L2085.4 689.2L2087.3 741.1L2088.6 798.3M2098.9 650.5L2096.7 691.1L2094.8 742.4L2093.5 799.1M2180.7 663.3L2182.9 704.6L2184.7 756.4L2186.1 813.6M2196.3 665.6L2194.2 706.3L2192.3 757.6L2191.0 814.3M2278.2 677.1L2280.3 718.3L2282.2 770.1L2283.6 827.3" stroke="#a845ff" stroke-width="9.4" stroke-dasharray="27 2.2" stroke-dashoffset="9"/>
<path d="M339.0 827.3L337.9 911.6L337.1 1041.9L336.7 1310.0L336.6 1432.6M431.6 814.3L432.8 899.1L433.6 1028.9L434.0 1208.8M436.5 813.6L435.3 898.7L434.5 1028.8L434.2 1208.8M529.1 799.1L530.3 883.7L531.1 1012.8L531.3 1117.8M534.0 798.3L532.8 883.3L532.0 1012.7L531.7 1117.8M626.6 781.9L627.8 868.6L628.6 999.1L628.8 1125.3M631.4 781.0L630.3 868.2L629.5 998.9L629.2 1125.2M724.0 762.0L725.2 845.5L726.0 973.8L726.4 1202.9M728.9 760.9L727.8 844.9L727.0 973.6L726.6 1202.8M821.5 738.5L822.6 817.2L823.4 940.1L823.9 1186.3L823.9 1432.6M826.4 737.2L825.3 816.5L824.5 939.9L824.0 1186.3L824.0 1432.6M919.0 709.7L920.1 792.1L920.9 916.0L921.3 1117.8M923.9 708.1L922.7 791.2L921.9 920.9L921.5 1117.8M1016.5 672.7L1017.6 758.2L1018.4 889.1L1018.7 995.6M1021.3 670.5L1020.1 757.1L1019.3 888.6L1019.1 995.4M1113.9 620.7L1115.1 704.2L1115.9 830.2L1116.2 952.3M1118.8 617.4L1117.6 702.5L1116.8 829.6L1116.5 952.1M1211.4 532.5L1212.6 616.8L1213.4 744.7L1213.7 953.8M1216.3 526.0L1215.1 613.5L1214.3 743.5L1213.9 953.6M1406.3 526.0L1407.5 613.5L1408.3 743.5L1408.7 953.6M1411.2 532.5L1410.0 616.8L1409.2 744.7L1408.9 953.8M1503.8 617.4L1505.0 702.5L1505.8 829.6L1506.1 952.1M1508.7 620.7L1507.5 704.2L1506.7 830.2L1506.4 952.3M1601.3 670.5L1602.5 757.1L1603.3 888.6L1603.5 995.4M1606.1 672.7L1605.0 758.2L1604.2 889.1L1603.9 995.6M1698.7 708.1L1699.9 791.2L1700.7 920.9L1701.1 1117.8M1703.6 709.7L1702.5 792.1L1701.7 916.0L1701.3 1117.8M1796.2 737.2L1797.3 816.5L1798.1 939.9L1798.6 1186.3L1798.6 1432.6M1801.1 738.5L1800.0 817.2L1799.2 940.1L1798.7 1186.3L1798.7 1432.6M1893.7 760.9L1894.8 844.9L1895.6 973.6L1896.0 1202.8M1898.6 762.0L1897.4 845.5L1896.6 973.8L1896.2 1202.9M1991.2 781.0L1992.3 868.2L1993.1 998.9L1993.4 1125.2M1996.0 781.9L1994.8 868.6L1994.0 999.1L1993.8 1125.3M2088.6 798.3L2089.8 883.3L2090.6 1012.7L2090.9 1117.8M2093.5 799.1L2092.3 883.7L2091.5 1012.8L2091.3 1117.8M2186.1 813.6L2187.3 898.7L2188.1 1028.8L2188.4 1208.8M2191.0 814.3L2189.8 899.1L2189.0 1028.9L2188.6 1208.8M2283.6 827.3L2284.7 911.6L2285.5 1041.9L2285.9 1310.0L2286.0 1432.6" stroke="#a845ff" stroke-width="8.3" stroke-dasharray="54 6.5" stroke-dashoffset="-6"/>
</g>
<rect x="1667.45" y="54.9" width="619.55" height="291.1" fill="#fff"/>
<path d="M1667.45 347.4V54.9" stroke="#3a3a3a" stroke-width="3.1" fill="none"/>
<path d="M1665.95 54.9H2288.8" stroke="#333" stroke-width="2.4" fill="none"/>
<path d="M1665.95 344.5H2283.3" stroke="#b4b4b4" stroke-width="2.7" fill="none"/>
<path d="M1665.95 347.2H2283.3" stroke="#666" stroke-width="2.8" fill="none"/>
<path d="M2284.7 53.9V349.0" stroke="#b8b8b8" stroke-width="2.8" fill="none"/>
<path d="M2287.45 53.9V349.0" stroke="#5a5a5a" stroke-width="2.7" fill="none"/>
<path d="M2266.5 349.5H2283.3" stroke="#4d4d4d" stroke-width="3" fill="none"/>
<path d="M1685.3 110H1866" stroke="#000" stroke-width="9" fill="none"/>
<path d="M1685.1 202.1H1866" stroke="#d95319" stroke-width="8.8" stroke-dasharray="35.8 8.3 19 5.4" fill="none"/>
<path d="M1685.1 292.4H1866" stroke="#a845ff" stroke-width="8.8" stroke-dasharray="35.8 32.7" fill="none"/>
<g font-family="'Liberation Sans', Arial, Helvetica, sans-serif" font-size="75.8" fill="#000">
<text transform="translate(1878.4,138.5) scale(0.97,1)">PHYDYAS</text>
<text transform="translate(1878.5,230.8) scale(0.955,1)">Hermite</text>
<text transform="translate(1878.5,322.5) scale(0.9566,1)">Rectangular</text>
</g>
<g font-family="'Liberation Sans', Arial, Helvetica, sans-serif" font-size="84" fill="#262626">
<text x="334.1" y="1657.8" text-anchor="middle">-10</text>
<text x="823.5" y="1657.8" text-anchor="middle">-5</text>
<text x="1311.8" y="1657.8" text-anchor="middle">0</text>
<text x="1798.7" y="1657.8" text-anchor="middle">5</text>
<text x="2288.3" y="1657.8" text-anchor="middle">10</text>
<text x="305" y="82.6" text-anchor="end">0</text>
<text x="305" y="381.0" text-anchor="end">-20</text>
<text x="305" y="679.4" text-anchor="end">-40</text>
<text x="305" y="977.7" text-anchor="end">-60</text>
<text x="305" y="1276.1" text-anchor="end">-80</text>
<text x="305" y="1574.5" text-anchor="end">-100</text>
</g>
<text font-family="'Liberation Sans', Arial, Helvetica, sans-serif" font-size="92.5" fill="#262626" x="1312.5" y="1778" text-anchor="middle">Normalized Frequency [MHz]</text>
<text font-family="'Liberation Sans', Arial, Helvetica, sans-serif" font-size="93" fill="#262626" transform="translate(99,796.5) rotate(-90)" text-anchor="middle">Normalized Amplitude [dB]</text>
</svg>
</body></html>
